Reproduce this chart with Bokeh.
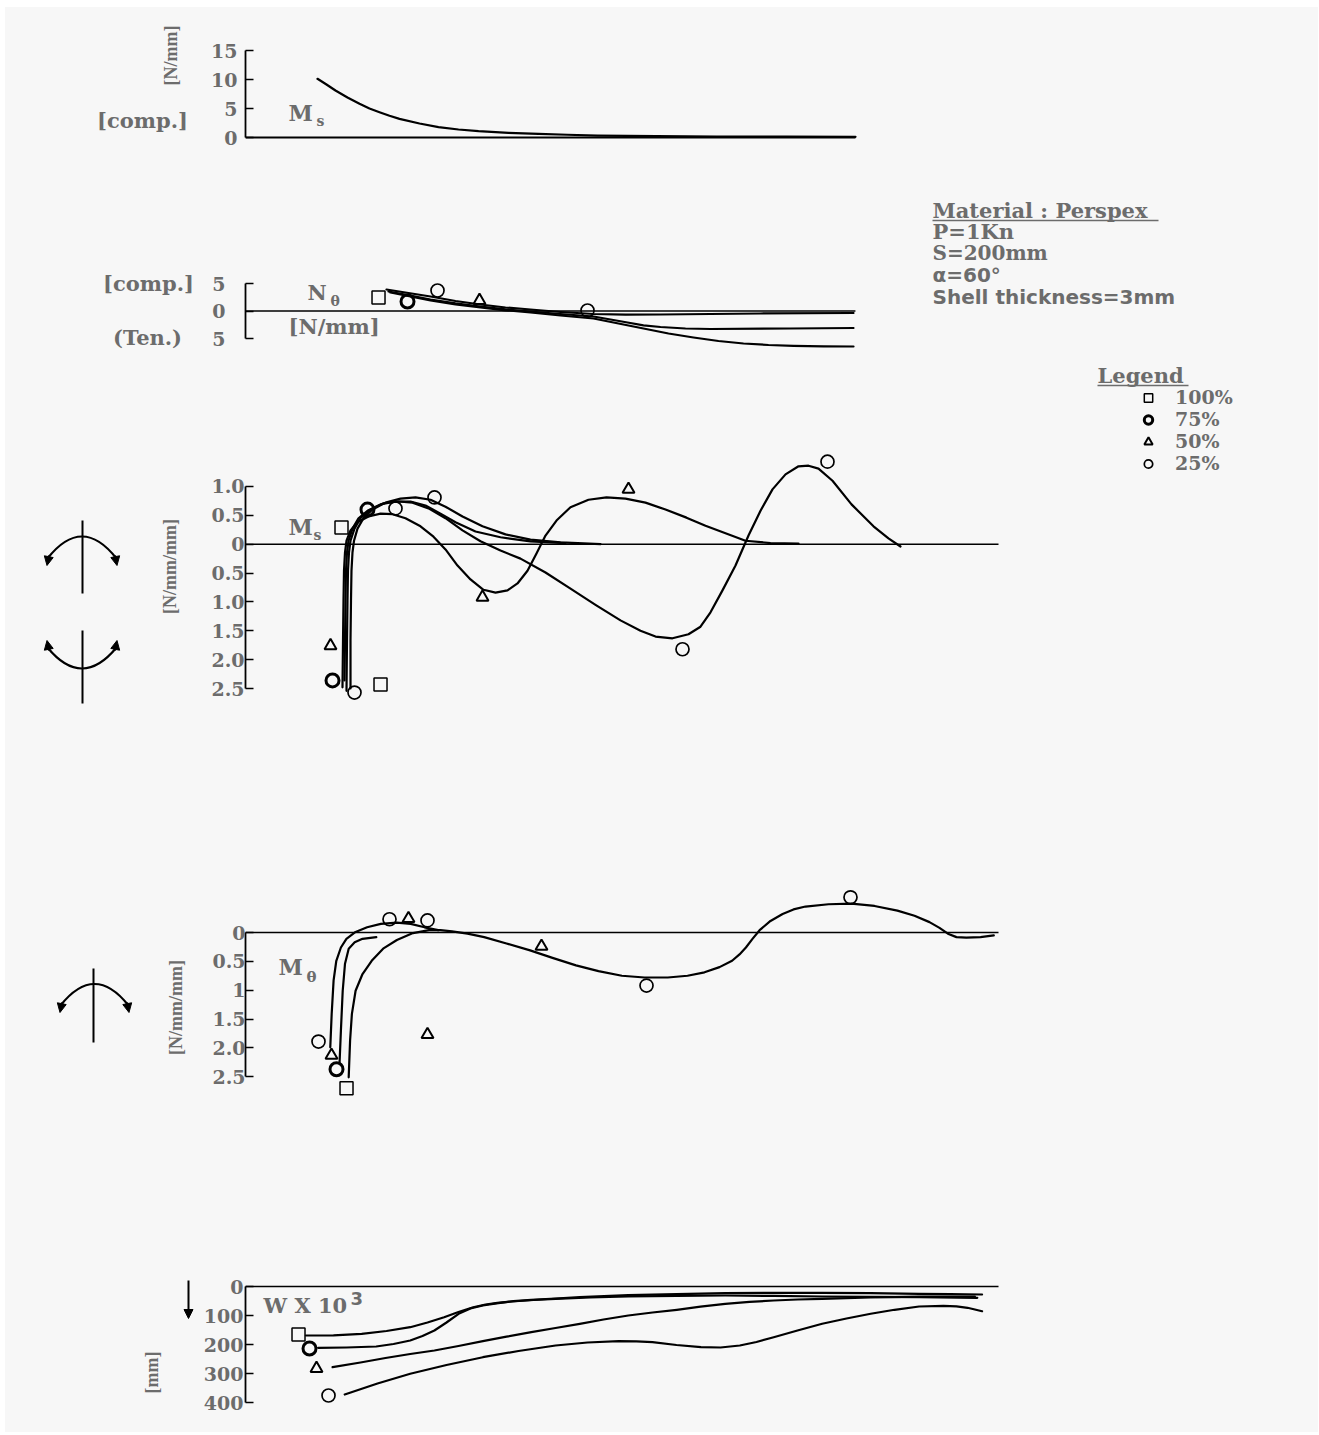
import math
from bokeh.plotting import figure
from bokeh.layouts import row, column
from bokeh.models import Range1d, FixedTicker, Legend, LegendItem, Arrow, NormalHead
from bokeh.embed import file_html
from bokeh.resources import INLINE
from bokeh.core.properties import value

# ---------------------------------------------------------------- data
# s = distance along the shell generator [mm]
S_UPPER_END = 162.0   # extent of the two upper diagrams
S_LOWER_END = 200.0   # extent of the three lower diagrams

# Panel 1 : M_s [N/mm] (compression)
p1_s = [19.12, 21.51, 23.90, 27.09, 30.28, 32.93, 35.59, 38.25, 40.90, 46.22, 51.26, 56.57, 61.89, 69.85, 77.82,
        85.52, 93.49, 109.16, 125.10, 143.43, 162.02]
p1_v = [10.12, 9.14, 8.10, 6.90, 5.81, 5.00, 4.36, 3.74, 3.22, 2.41, 1.78, 1.38, 1.09, 0.81, 0.64,
        0.47, 0.34, 0.24, 0.17, 0.14, 0.12]

# Panel 2 : N_theta [N/mm]  (+ comp. / - ten.)
n_a_s = [37.45, 43.29, 49.14, 55.78, 62.42, 69.06, 75.70, 83.67, 92.43, 100.93, 110.23, 123.51, 136.79, 161.49]
n_a_v = [3.91, 3.27, 2.64, 1.82, 1.18, 0.64, 0.27, -0.18, -0.55, -0.67, -0.64, -0.55, -0.45, -0.36]
n_b_s = [37.98, 43.82, 49.14, 55.78, 62.42, 69.06, 75.70, 83.67, 92.43, 96.95, 101.46, 105.71, 110.23, 116.87,
         123.51, 144.75, 161.49]
n_b_v = [3.55, 2.82, 2.09, 1.40, 0.82, 0.31, -0.09, -0.55, -1.00, -1.55, -2.09, -2.60, -2.91, -3.18,
         -3.27, -3.18, -3.09]
n_c_s = [38.51, 43.82, 49.14, 55.78, 62.42, 69.06, 75.70, 83.67, 92.43, 99.07, 105.71, 112.35, 118.99, 125.63,
         132.27, 138.91, 145.55, 153.52, 161.49]
n_c_v = [3.36, 2.64, 1.91, 1.22, 0.64, 0.13, -0.27, -0.82, -1.36, -2.27, -3.18, -4.09, -4.82, -5.45,
         -5.91, -6.18, -6.33, -6.42, -6.45]
n_sq_s, n_sq_v = [35.33], [2.45]
n_bc_s, n_bc_v = [43.03], [1.73]
n_tr_s, n_tr_v = [62.15], [1.91]
n_ci_s, n_ci_v = [51.00, 90.84], [3.73, 0.09]

# Panel 3 : M_s [N/mm/mm]
ms100_s = [27.89, 27.89, 28.02, 28.15, 28.42, 28.82, 29.75, 31.34, 33.73, 37.18, 41.17, 45.15, 49.14, 53.12, 57.64, 62.95, 69.06, 75.70, 83.67, 94.29]
ms100_v = [-2.50, -1.67, -0.98, -0.46, -0.14, 0.06, 0.27, 0.45, 0.60, 0.72, 0.79, 0.81, 0.77, 0.65, 0.48, 0.31, 0.17, 0.08, 0.03, 0.00]
ms75_s = [26.29, 26.43, 26.56, 26.69, 26.96, 27.36, 28.42, 30.01, 32.40, 35.86, 39.84, 43.82, 47.81, 51.79, 55.78, 61.09, 67.73, 75.70, 84.99]
ms75_v = [-2.36, -1.67, -0.98, -0.46, -0.14, 0.06, 0.27, 0.45, 0.58, 0.69, 0.74, 0.74, 0.67, 0.53, 0.38, 0.22, 0.12, 0.05, 0.02]
ms50_s = [25.76, 25.90, 26.03, 26.16, 26.43, 26.83, 27.89, 29.75, 32.67, 35.86, 39.04, 42.50, 46.48, 49.93, 53.12, 56.31, 59.76, 63.21, 66.40, 69.59,
          72.24, 74.90, 77.29, 79.68, 82.60, 86.32, 91.10, 95.88, 100.93, 106.24, 111.55, 117.13, 122.18, 127.49, 132.80, 139.44, 146.88]
ms50_v = [-2.48, -1.67, -0.98, -0.46, -0.14, 0.06, 0.24, 0.38, 0.48, 0.53, 0.52, 0.45, 0.31, 0.13, -0.09, -0.37, -0.61, -0.79, -0.84, -0.80,
          -0.68, -0.46, -0.16, 0.15, 0.41, 0.64, 0.77, 0.81, 0.79, 0.72, 0.60, 0.46, 0.32, 0.19, 0.06, 0.02, 0.01]
ms25_s = [26.83, 26.96, 27.09, 27.22, 27.49, 27.89, 28.95, 30.54, 33.20, 36.65, 40.64, 44.36, 48.61, 53.12, 57.64, 62.42, 67.73, 73.04, 79.68, 86.32,
          92.96, 99.60, 104.91, 108.90, 113.41, 117.66, 120.85, 123.51, 126.69, 130.15, 133.60, 136.79, 139.97, 143.43, 146.88, 149.54, 152.19,
          155.91, 160.96, 166.80, 170.78, 173.97]
ms25_v = [-2.54, -1.67, -0.98, -0.46, -0.14, 0.06, 0.27, 0.45, 0.60, 0.71, 0.74, 0.72, 0.62, 0.45, 0.24, 0.05, -0.11, -0.25, -0.49, -0.77,
          -1.05, -1.32, -1.50, -1.60, -1.63, -1.56, -1.43, -1.18, -0.80, -0.37, 0.15, 0.58, 0.95, 1.21, 1.35, 1.36, 1.31,
          1.10, 0.69, 0.31, 0.10, -0.04]
m3_sq_s, m3_sq_v = [25.50, 35.86], [0.29, -2.43]
m3_bc_s, m3_bc_v = [32.40, 23.11], [0.60, -2.36]
m3_tr_s, m3_tr_v = [22.58, 62.95, 101.73], [-1.76, -0.92, 0.95]
m3_ci_s, m3_ci_v = [28.95, 39.84, 50.20, 116.07, 154.58], [-2.57, 0.62, 0.81, -1.82, 1.43]

# Panel 4 : M_theta [N/mm/mm]
mt_a_s = [22.52, 22.89, 23.40, 24.12, 25.34, 26.80, 29.24, 32.30, 35.94, 40.21, 43.88, 47.54, 51.18]
mt_a_v = [-1.99, -1.41, -0.83, -0.49, -0.26, -0.11, 0.01, 0.09, 0.15, 0.17, 0.15, 0.09, 0.04]
mt_b_s = [24.97, 25.34, 25.82, 26.43, 27.41, 29.00, 31.08, 34.74]
mt_b_v = [-2.28, -1.70, -1.01, -0.54, -0.28, -0.17, -0.11, -0.08]
mt_c_s = [27.41, 27.78, 28.26, 29.24, 31.08, 33.52, 36.55, 40.21, 44.49, 48.76, 51.79, 54.85, 58.96, 63.40, 69.32, 75.59,
          81.54, 87.78, 93.76, 99.97, 105.98, 112.16, 117.40, 121.91, 125.90, 129.24, 131.21, 132.91, 134.66, 136.55,
          139.44, 142.66, 145.55, 148.74, 154.85, 160.96, 167.07, 173.15, 177.69, 181.67, 184.33, 186.56, 188.84,
          191.45, 195.22, 198.75]
mt_c_v = [-2.51, -1.87, -1.41, -1.01, -0.72, -0.49, -0.28, -0.13, -0.01, 0.04, 0.04, 0.02, -0.02, -0.08, -0.19, -0.31,
          -0.44, -0.57, -0.67, -0.75, -0.78, -0.78, -0.75, -0.69, -0.60, -0.49, -0.38, -0.26, -0.11, 0.04,
          0.20, 0.32, 0.40, 0.45, 0.49, 0.50, 0.46, 0.38, 0.29, 0.18, 0.08, -0.02, -0.08,
          -0.09, -0.08, -0.05]
m4_sq_s, m4_sq_v = [26.83], [-2.70]
m4_bc_s, m4_bc_v = [24.17], [-2.37]
m4_tr_s, m4_tr_v = [22.84, 43.29, 78.62, 48.34], [-2.13, 0.24, -0.24, -1.77]
m4_ci_s, m4_ci_v = [19.39, 38.25, 48.34, 106.51, 160.69], [-1.89, 0.23, 0.21, -0.92, 0.61]

# Panel 5 : W x 10^3 [mm]
w100_s = [16.04, 23.37, 30.86, 37.45, 43.75, 48.34, 52.75, 56.57, 60.48, 63.75, 66.91, 71.18, 75.91, 82.34, 88.79,
          101.67, 114.48, 127.41, 140.24, 153.17, 166.00, 178.91, 187.25, 195.64]
w100_v = [169.0, 168.3, 163.1, 153.4, 140.3, 124.1, 105.9, 87.9, 71.4, 62.1, 56.2, 50.7, 45.9, 41.4, 36.9,
          30.0, 26.2, 23.1, 21.7, 21.7, 23.1, 25.2, 26.2, 27.6]
w75_s = [19.28, 26.83, 34.71, 39.31, 43.75, 47.01, 50.17, 53.39, 56.60, 59.76, 63.05, 66.67, 70.76, 76.49, 82.36,
         91.63, 101.67, 114.48, 127.41, 140.24, 153.17, 166.00, 178.91, 194.37]
w75_v = [211.4, 210.3, 206.9, 198.3, 186.2, 170.7, 151.7, 124.1, 94.1, 75.9, 65.5, 57.9, 51.7, 46.6, 42.4,
         37.9, 34.5, 32.1, 31.0, 32.4, 34.5, 35.9, 36.9, 39.0]
w50_s = [23.13, 30.54, 37.18, 43.75, 50.17, 56.57, 63.05, 69.32, 75.91, 82.34, 88.79, 95.09, 101.67, 108.10, 114.56,
         120.85, 127.41, 133.86, 140.29, 146.61, 153.17, 166.00, 178.91, 193.73]
w50_v = [278.3, 262.1, 246.6, 232.8, 220.7, 205.2, 188.6, 173.1, 157.6, 143.1, 128.6, 113.8, 100.0, 89.7, 80.3,
         69.7, 59.7, 53.1, 48.3, 44.8, 42.4, 37.9, 35.2, 34.5]
w25_s = [26.35, 35.06, 43.75, 53.39, 63.05, 72.51, 82.36, 90.84, 99.10, 103.85, 108.10, 114.48, 120.98, 126.16, 131.29,
         135.72, 140.29, 146.61, 153.17, 159.63, 166.06, 172.38, 178.91, 185.37, 188.84, 191.79, 195.64]
w25_v = [372.4, 334.5, 301.0, 270.7, 243.8, 222.4, 203.4, 193.1, 188.6, 189.0, 192.1, 201.7, 209.3, 210.3, 203.4,
         191.4, 174.8, 151.7, 128.6, 110.3, 94.1, 80.3, 69.0, 66.6, 68.3, 73.4, 85.2]
m5_sq_s, m5_sq_v = [14.08], [165.5]
m5_bc_s, m5_bc_v = [17.00], [213.8]
m5_tr_s, m5_tr_v = [18.86], [282.8]
m5_ci_s, m5_ci_v = [22.05], [375.9]

legend_labels = ["100%", "75%", "50%", "25%"]
info_lines = ["Material : Perspex", "P=1Kn", "S=200mm", "\u03b1=60\u00b0", "Shell thickness=3mm"]

# ---------------------------------------------------------------- styling / geometry
GRAY = "#6c6c6c"
BG = "#f7f7f7"
SERIF = "DejaVu Serif"
NARROW = "Liberation Serif"
SANS = "DejaVu Sans"
LW = 2.2

PAGE_LEFT, PAGE_TOP, PAGE_RIGHT, PAGE_BOTTOM = 5, 7, 1318, 1432
X0_PX, PX_PER_MM = 245.0, 3.765
X_RANGE = Range1d(0, (PAGE_RIGHT - X0_PX) / PX_PER_MM)


def sx(px):
    return (px - X0_PX) / PX_PER_MM


v1 = lambda py: (137.0 - py) * 15.0 / 87.0
v2 = lambda py: (310.5 - py) / 5.5
v3 = lambda py: (543.7 - py) / 57.72
v4 = lambda py: (932.0 - py) / 57.7
v5 = lambda py: (py - 1286.0) * 100.0 / 29.0


def main_fig(top_px, bottom_px, vf, ticks, bounds, overrides, standoff):
    p = figure(width=PAGE_RIGHT - 195, height=int(bottom_px - top_px), x_range=X_RANGE,
               y_range=Range1d(vf(bottom_px), vf(top_px)),
               x_axis_location=None, y_axis_location="left",
               toolbar_location=None, output_backend="svg", title=None,
               min_border_left=50, min_border_right=0, min_border_top=0, min_border_bottom=0)
    p.grid.visible = False
    p.outline_line_color = None
    p.background_fill_color = BG
    p.border_fill_color = BG
    ax = p.yaxis[0]
    ax.ticker = FixedTicker(ticks=ticks)
    ax.bounds = bounds
    ax.major_label_overrides = overrides
    ax.major_tick_in = 8
    ax.major_tick_out = 0
    ax.minor_tick_line_color = None
    ax.axis_line_width = 1.8
    ax.major_tick_line_width = 1.6
    ax.major_label_standoff = standoff
    ax.major_label_text_font = SERIF
    ax.major_label_text_font_style = "bold"
    ax.major_label_text_font_size = "19px"
    ax.major_label_text_color = GRAY
    return p


def txt(p, x, y, t, font=SERIF, size="21px", align="left", angle=0.0, color=GRAY):
    p.text(x=[x], y=[y], text=[t], text_font=value(font), text_font_style="bold",
           text_font_size=size, text_color=color, text_align=align,
           text_baseline="middle", angle=angle)


def markers(p, sq, bc, tr, ci):
    rs = []
    rs.append(p.scatter(sq[0], sq[1], marker="square", size=13, fill_color=None, line_color="black", line_width=1.5))
    rs.append(p.scatter(bc[0], bc[1], marker="circle", size=13, fill_color=None, line_color="black", line_width=3))
    rs.append(p.scatter(tr[0], tr[1], marker="triangle", size=12, fill_color=None, line_color="black", line_width=2))
    rs.append(p.scatter(ci[0], ci[1], marker="circle", size=13, fill_color=None, line_color="black", line_width=1.7))
    return rs


def curve(p, s, v):
    p.line(s, v, line_color="black", line_width=LW, line_join="round", line_cap="round")


# ---------------------------------------------------------------- panel 1
f1 = main_fig(PAGE_TOP, 175, v1, [0, 5, 10, 15], (0, 15), {}, 8)
f1.line([0, S_UPPER_END], [0, 0], line_color="black", line_width=1.8)
curve(f1, p1_s, p1_v)
txt(f1, sx(288), v1(112), "M", size="22px")
txt(f1, sx(316), v1(120), "s", size="14px")

# ---------------------------------------------------------------- panel 2
f2 = main_fig(175, 355, v2, [-5, 0, 5], (-5, 5), {-5: "5"}, 20)
f2.line([0, S_UPPER_END], [0, 0], line_color="black", line_width=1.6)
for s, v in ((n_a_s, n_a_v), (n_b_s, n_b_v), (n_c_s, n_c_v)):
    curve(f2, s, v)
markers(f2, (n_sq_s, n_sq_v), (n_bc_s, n_bc_v), (n_tr_s, n_tr_v), (n_ci_s, n_ci_v))
txt(f2, sx(307), v2(292), "N", size="21px")
txt(f2, sx(330), v2(300), "\u03b8", size="14px")
txt(f2, sx(288), v2(326), "[N/mm]", size="21px")
info_y = [210, 231, 252, 274, 296]
info_font = [SERIF, SERIF, SERIF, SANS, SANS]
info_size = ["21px", "21px", "20px", "20px", "20px"]
for t, yy, fnt, sz in zip(info_lines, info_y, info_font, info_size):
    txt(f2, sx(932), v2(yy), t, font=fnt, size=sz)
f2.segment(x0=[sx(932)], y0=[v2(220)], x1=[sx(1158)], y1=[v2(220)], line_color=GRAY, line_width=1.6)

# ---------------------------------------------------------------- panel 3
ticks3 = [-2.5, -2.0, -1.5, -1.0, -0.5, 0, 0.5, 1.0]
ov3 = {-2.5: "2.5", -2.0: "2.0", -1.5: "1.5", -1.0: "1.0", -0.5: "0.5", 0: "0", 0.5: "0.5", 1.0: "1.0"}
f3 = main_fig(355, 760, v3, ticks3, (-2.5, 1.0), ov3, 1)
f3.line([0, S_LOWER_END], [0, 0], line_color="black", line_width=1.4)
for s, v in ((ms100_s, ms100_v), (ms75_s, ms75_v), (ms50_s, ms50_v), (ms25_s, ms25_v)):
    curve(f3, s, v)
r3 = markers(f3, (m3_sq_s, m3_sq_v), (m3_bc_s, m3_bc_v), (m3_tr_s, m3_tr_v), (m3_ci_s, m3_ci_v))
txt(f3, sx(288), v3(526), "M", size="22px")
txt(f3, sx(313), v3(534), "s", size="14px")
txt(f3, sx(1097), v3(375), "Legend", size="21px")
f3.segment(x0=[sx(1097)], y0=[v3(385)], x1=[sx(1188)], y1=[v3(385)], line_color=GRAY, line_width=1.6)
legend = Legend(items=[LegendItem(label=lab, renderers=[r]) for lab, r in zip(legend_labels, r3)],
                location=(890, 286), orientation="vertical", padding=0, margin=0, spacing=0,
                glyph_width=26, glyph_height=21, label_height=21, label_standoff=14,
                border_line_color=None, background_fill_alpha=0,
                label_text_font=SERIF, label_text_font_style="bold", label_text_font_size="19px",
                label_text_color=GRAY)
f3.add_layout(legend)

# ---------------------------------------------------------------- panel 4
ticks4 = [-2.5, -2.0, -1.5, -1.0, -0.5, 0]
ov4 = {-2.5: "2.5", -2.0: "2.0", -1.5: "1.5", -1.0: "1", -0.5: "0.5", 0: "0"}
f4 = main_fig(760, 1150, v4, ticks4, (-2.5, 0), ov4, 0)
f4.line([0, S_LOWER_END], [0, 0], line_color="black", line_width=1.6)
for s, v in ((mt_a_s, mt_a_v), (mt_b_s, mt_b_v), (mt_c_s, mt_c_v)):
    curve(f4, s, v)
markers(f4, (m4_sq_s, m4_sq_v), (m4_bc_s, m4_bc_v), (m4_tr_s, m4_tr_v), (m4_ci_s, m4_ci_v))
txt(f4, sx(278), v4(966), "M", size="22px")
txt(f4, sx(306), v4(976), "\u03b8", size="15px")

# ---------------------------------------------------------------- panel 5
f5 = main_fig(1150, PAGE_BOTTOM, v5, [0, 100, 200, 300, 400], (0, 400), {}, 2)
f5.line([0, S_LOWER_END], [0, 0], line_color="black", line_width=1.6)
for s, v in ((w100_s, w100_v), (w75_s, w75_v), (w50_s, w50_v), (w25_s, w25_v)):
    curve(f5, s, v)
markers(f5, (m5_sq_s, m5_sq_v), (m5_bc_s, m5_bc_v), (m5_tr_s, m5_tr_v), (m5_ci_s, m5_ci_v))
txt(f5, sx(263), v5(1305), "W X 10", size="21px")
txt(f5, sx(350), v5(1298), "3", font=SANS, size="18px")

# ---------------------------------------------------------------- left margin: units and sign symbols
lf = figure(width=195 - PAGE_LEFT, height=PAGE_BOTTOM - PAGE_TOP,
            x_range=Range1d(PAGE_LEFT, 195), y_range=Range1d(PAGE_BOTTOM, PAGE_TOP),
            x_axis_location=None, y_axis_location=None, toolbar_location=None,
            output_backend="svg", title=None,
            min_border_left=0, min_border_right=0, min_border_top=0, min_border_bottom=0)
lf.grid.visible = False
lf.outline_line_color = None
lf.background_fill_color = BG
lf.border_fill_color = BG

up = math.pi / 2
txt(lf, 170, 55, "[N/mm]", font=NARROW, size="18px", align="center", angle=up)
txt(lf, 142, 120, "[comp.]", align="center")
txt(lf, 148, 283, "[comp.]", align="center")
txt(lf, 147, 337, "(Ten.)", align="center")
txt(lf, 169, 566, "[N/mm/mm]", font=NARROW, size="18px", align="center", angle=up)
txt(lf, 175, 1007, "[N/mm/mm]", font=NARROW, size="18px", align="center", angle=up)
txt(lf, 151, 1372, "[mm]", font=NARROW, size="18px", align="center", angle=up)


def head():
    return NormalHead(size=9, fill_color="black", line_color="black", line_width=1)


def moment_icon(cx, y_top, y_bot, x_left, x_right, y_end, y_ctrl, arrow_dir):
    lf.segment(x0=[cx], y0=[y_top], x1=[cx], y1=[y_bot], line_color="black", line_width=2)
    lf.quadratic(x0=[x_left], y0=[y_end], x1=[x_right], y1=[y_end], cx=[(x_left + x_right) / 2], cy=[y_ctrl],
                 line_color="black", line_width=2.2)
    for xe, dx in ((x_left, -1), (x_right, 1)):
        lf.add_layout(Arrow(end=head(), x_start=xe - dx * 1.5, y_start=y_end - arrow_dir * 3,
                            x_end=xe + dx * 0.5, y_end=y_end + arrow_dir * 7,
                            line_color="black", line_width=2))


moment_icon(82, 520, 593, 47, 116, 558, 514, 1)
moment_icon(82, 630, 703, 47, 116, 647, 689, -1)
moment_icon(93, 968, 1042, 60, 128, 1005, 962, 1)
lf.add_layout(Arrow(end=head(), x_start=188, y_start=1280, x_end=188, y_end=1318,
                    line_color="black", line_width=2))

right_col = column(f1, f2, f3, f4, f5, spacing=0, styles={"background-color": BG})
layout = row(lf, right_col, spacing=0, margin=(PAGE_TOP, 0, 0, PAGE_LEFT), styles={"background-color": BG})
open("out.html", "w").write(file_html(layout, INLINE))
